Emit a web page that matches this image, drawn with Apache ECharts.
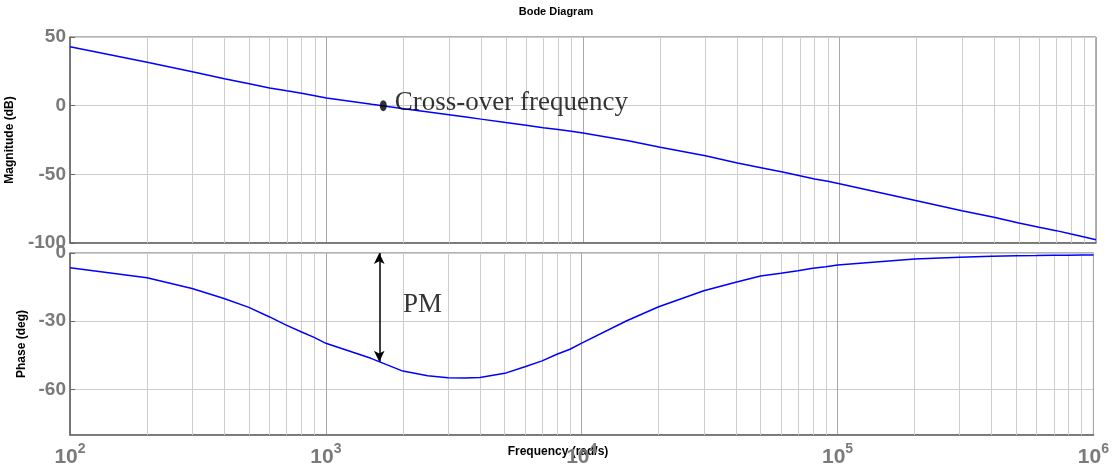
<!DOCTYPE html>
<html><head><meta charset="utf-8">
<script src="https://cdn.jsdelivr.net/npm/echarts@6/dist/echarts.min.js"></script>
<style>html,body{margin:0;padding:0;background:#fff}#c{width:1112px;height:472px}</style>
</head><body><div id="c"></div>
<script>
// Frequency samples (rad/s)
const freq = [100,200,300,400,500,600,700,800,900,1000,1500,
  2000,2500,3000,3500,4000,5000,6000,7000,8000,9000,10000,15000,
  20000,30000,40000,50000,60000,70000,80000,90000,100000,
  200000,300000,400000,500000,600000,700000,800000,900000,1000000];
// Magnitude (dB)
const magnitude = [42.9,31.6,24.7,19.6,16.0,12.9,10.8,9.0,7.2,5.6,1.0,
  -2.2,-4.6,-6.6,-8.3,-9.8,-12.3,-14.3,-16.0,-17.4,-18.7,-19.9,-25.5,
  -30.3,-36.4,-41.8,-45.4,-48.3,-51.0,-53.4,-55.1,-56.8,
  -69.2,-76.5,-81.3,-85.5,-88.6,-91.0,-93.5,-95.6,-97.6];
// Phase (deg)
const phase = [-6.5,-10.9,-15.6,-20.0,-23.9,-28.0,-31.7,-34.6,-37.1,-39.7,-46.3,
  -51.9,-54.0,-54.8,-54.9,-54.7,-52.9,-50.0,-47.4,-44.5,-42.3,-39.6,-29.8,
  -23.6,-16.6,-12.9,-10.1,-8.9,-7.8,-6.7,-6.0,-5.3,
  -2.6,-1.9,-1.4,-1.2,-1.1,-1.0,-1.0,-0.9,-0.9];
// Minor grid frequencies (2..9 x each decade)
const minorGrid = [200,300,400,500,600,700,800,900,
  2000,3000,4000,5000,6000,7000,8000,9000,
  20000,30000,40000,50000,60000,70000,80000,90000,
  200000,300000,400000,500000,600000,700000,800000,900000];
// Annotations
const crossover = [1665, 0];
const pmArrowFreq = 1617;
const pmArrowPhase = [0, -47.8];
const pmLabelPos = [2004, -22.8];

const gray = '#7a7a7a';
const lblFont = 'Liberation Sans, Arial, sans-serif';
const minorLines = minorGrid.map(v => ({xAxis: v}));
const gridMarkLine = {
  silent: true, symbol: ['none','none'], animation: false,
  label: {show: false},
  lineStyle: {color: '#cdcdcd', width: 1, type: 'solid'},
  emphasis: {disabled: true},
  data: minorLines
};
const xAxisBase = {
  type: 'log', logBase: 10, min: 100, max: 1000000,
  axisLine: {show: true, onZero: false, lineStyle: {color: '#666', width: 1.5}},
  axisTick: {show: false},
  splitLine: {show: true, lineStyle: {color: '#a8a8a8', width: 1}},
  minorTick: {show: false}, minorSplitLine: {show: false}
};
const chart = echarts.init(document.getElementById('c'), null, {renderer: 'canvas'});
chart.setOption({
  backgroundColor: '#fff',
  animation: false,
  grid: [
    {left: 70, right: 16, top: 37, height: 206, show: true, borderColor: '#666', borderWidth: 1, containLabel: false},
    {left: 70, right: 16, top: 253, height: 182, show: true, borderColor: '#666', borderWidth: 1, containLabel: false}
  ],
  xAxis: [
    Object.assign({}, xAxisBase, {gridIndex: 0, axisLabel: {show: false}}),
    Object.assign({}, xAxisBase, {gridIndex: 1,
      axisLabel: {show: true, margin: 7,
        formatter: v => '{b|10}{s|' + Math.round(Math.log10(v)) + '}',
        rich: {
          b: {fontSize: 21, fontWeight: 'bold', color: gray, fontFamily: lblFont, lineHeight: 30},
          s: {fontSize: 14, fontWeight: 'bold', color: gray, fontFamily: lblFont, lineHeight: 14, verticalAlign: 'top'}
        }}})
  ],
  yAxis: [
    {gridIndex: 0, type: 'value', min: -100, max: 50, interval: 50,
      axisLine: {show: true, onZero: false, lineStyle: {color: '#666', width: 1.5}},
      axisTick: {show: true, inside: true, length: 5, lineStyle: {color: '#666'}},
      axisLabel: {margin: 4, fontSize: 19, fontWeight: 'bold', color: gray, fontFamily: lblFont},
      splitLine: {show: true, lineStyle: {color: '#cdcdcd', width: 1}}},
    {gridIndex: 1, type: 'value', inverse: true, min: 0, max: 80, interval: 30,
      axisLine: {show: true, onZero: false, lineStyle: {color: '#666', width: 1.5}},
      axisTick: {show: true, inside: true, length: 5, lineStyle: {color: '#666'}},
      axisLabel: {margin: 4, fontSize: 19, fontWeight: 'bold', color: gray, fontFamily: lblFont,
        showMaxLabel: false, showMinLabel: true,
        formatter: v => v === 0 ? '0' : (v === 80 ? '' : '-' + v)},
      splitLine: {show: true, lineStyle: {color: '#cdcdcd', width: 1}}}
  ],
  graphic: [
    {type: 'text', x: 556, y: 12, style: {text: 'Bode Diagram', align: 'center', verticalAlign: 'middle', font: 'bold 11px Liberation Sans, Arial, sans-serif', fill: '#000'}, silent: true},
    {type: 'text', x: 10, y: 140, rotation: Math.PI/2, style: {text: 'Magnitude (dB)', align: 'center', verticalAlign: 'middle', font: 'bold 12px Liberation Sans, Arial, sans-serif', fill: '#000'}, silent: true},
    {type: 'text', x: 22, y: 344, rotation: Math.PI/2, style: {text: 'Phase (deg)', align: 'center', verticalAlign: 'middle', font: 'bold 12px Liberation Sans, Arial, sans-serif', fill: '#000'}, silent: true},
    {type: 'text', x: 558, y: 452, style: {text: 'Frequency (rad/s)', align: 'center', verticalAlign: 'middle', font: 'bold 12px Liberation Sans, Arial, sans-serif', fill: '#000'}, silent: true}
  ],
  series: [
    {type: 'line', xAxisIndex: 0, yAxisIndex: 0, data: [], z: 1, markLine: gridMarkLine},
    {type: 'line', xAxisIndex: 1, yAxisIndex: 1, data: [], z: 1, markLine: gridMarkLine},
    {name: 'Magnitude', type: 'line', xAxisIndex: 0, yAxisIndex: 0, z: 5,
      data: freq.map((f, i) => [f, magnitude[i]]),
      showSymbol: false, smooth: false,
      lineStyle: {color: '#0000ff', width: 1.5}},
    {name: 'Phase', type: 'line', xAxisIndex: 1, yAxisIndex: 1, z: 5,
      data: freq.map((f, i) => [f, -phase[i]]),
      showSymbol: false, smooth: false,
      lineStyle: {color: '#0000ff', width: 1.5},
      markLine: {silent: true, animation: false, symbol: ['arrow','arrow'], symbolSize: [8, 11],
        label: {show: false},
        lineStyle: {color: '#000', width: 1.5, type: 'solid'},
        data: [[{coord: [pmArrowFreq, -pmArrowPhase[0]]}, {coord: [pmArrowFreq, -pmArrowPhase[1]]}]]}},
    {type: 'scatter', xAxisIndex: 0, yAxisIndex: 0, z: 6,
      data: [crossover], symbol: 'circle', symbolSize: [7, 11],
      itemStyle: {color: '#000'},
      label: {show: true, position: 'right', distance: 8, offset: [0, -3],
        formatter: 'Cross-over frequency', color: '#000', fontSize: 27, fontFamily: 'Liberation Serif, Times New Roman, serif'}},
    {type: 'scatter', xAxisIndex: 1, yAxisIndex: 1, z: 6,
      data: [[pmLabelPos[0], -pmLabelPos[1]]], symbolSize: 0,
      label: {show: true, position: 'right', distance: 0,
        formatter: 'PM', color: '#000', fontSize: 27, fontFamily: 'Liberation Serif, Times New Roman, serif'}}
  ]
});
</script></body></html>
